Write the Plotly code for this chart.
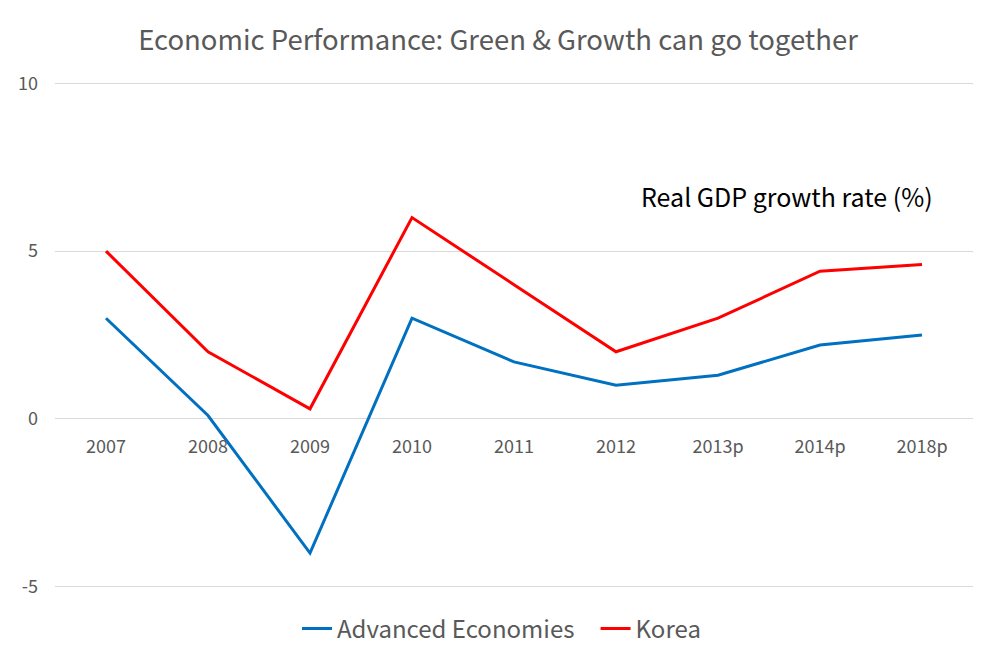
import plotly.graph_objects as go

categories = ["2007", "2008", "2009", "2010", "2011", "2012", "2013p", "2014p", "2018p"]
advanced = [3.0, 0.1, -4.0, 3.0, 1.7, 1.0, 1.3, 2.2, 2.5]
korea = [5.0, 2.0, 0.3, 6.0, 4.0, 2.0, 3.0, 4.4, 4.6]
y_ticks = [-5, 0, 5, 10]
y_tick_labels = ["-5", "0", "5", "10"]

FONT = "Noto Sans CJK KR"
GRAY = "#595959"

# page has an 8px body margin, so the figure is sized/offset to compensate
W, H = 985, 650
Y0, Y1 = -5.1, 10.1
PX = 504 / 15.0  # pixels per unit
pad = 0.1 * PX
fig = go.Figure()
fig.add_trace(go.Scatter(x=categories, y=advanced, mode="lines",
                         name="Advanced Economies\u00a0\u00a0\u00a0",
                         line=dict(color="#0070C0", width=3)))
fig.add_trace(go.Scatter(x=categories, y=korea, mode="lines", name="Korea",
                         line=dict(color="#FF0000", width=3)))

plot_h = (Y1 - Y0) * PX
fig.update_layout(
    width=W, height=H,
    margin=dict(l=47, r=20, t=75 - pad, b=71 - pad, autoexpand=False),
    paper_bgcolor="white", plot_bgcolor="white",
    font=dict(family=FONT, color=GRAY),
    title=dict(text="Economic Performance: Green &amp; Growth can go together",
               x=(498 - 8) / W, xanchor="center", xref="container",
               y=1 - 32 / H, yanchor="middle", yref="container",
               font=dict(size=27.5, color=GRAY, family=FONT)),
    xaxis=dict(type="category", range=[-0.5, 8.5], anchor="free", position=(0 - Y0) / (Y1 - Y0),
               showgrid=False, showline=False, zeroline=False, ticks="",
               tickfont=dict(size=18, color=GRAY), ticklabelstandoff=15),
    yaxis=dict(range=[Y0, Y1], tickvals=y_ticks, ticktext=y_tick_labels,
               showgrid=True, gridcolor="#D9D9D9",
               gridwidth=1, zeroline=True, zerolinecolor="#D9D9D9", zerolinewidth=1,
               showline=False, ticks="", tickfont=dict(size=18, color=GRAY),
               ticklabelstandoff=16),
    legend=dict(orientation="h", x=(501.5 - 8) / W, xanchor="center", xref="container",
                y=(H - 621) / H, yanchor="middle", yref="container",
                font=dict(size=24, color=GRAY, family=FONT), itemwidth=30),
    annotations=[dict(text="Real GDP growth rate (%)", xref="paper", yref="paper",
                      x=(935 - 55) / 918, xanchor="right",
                      y=(587 + pad - 196) / plot_h, yanchor="middle",
                      showarrow=False, font=dict(size=25, color="black", family=FONT))],
)

fig.write_html("out.html")
